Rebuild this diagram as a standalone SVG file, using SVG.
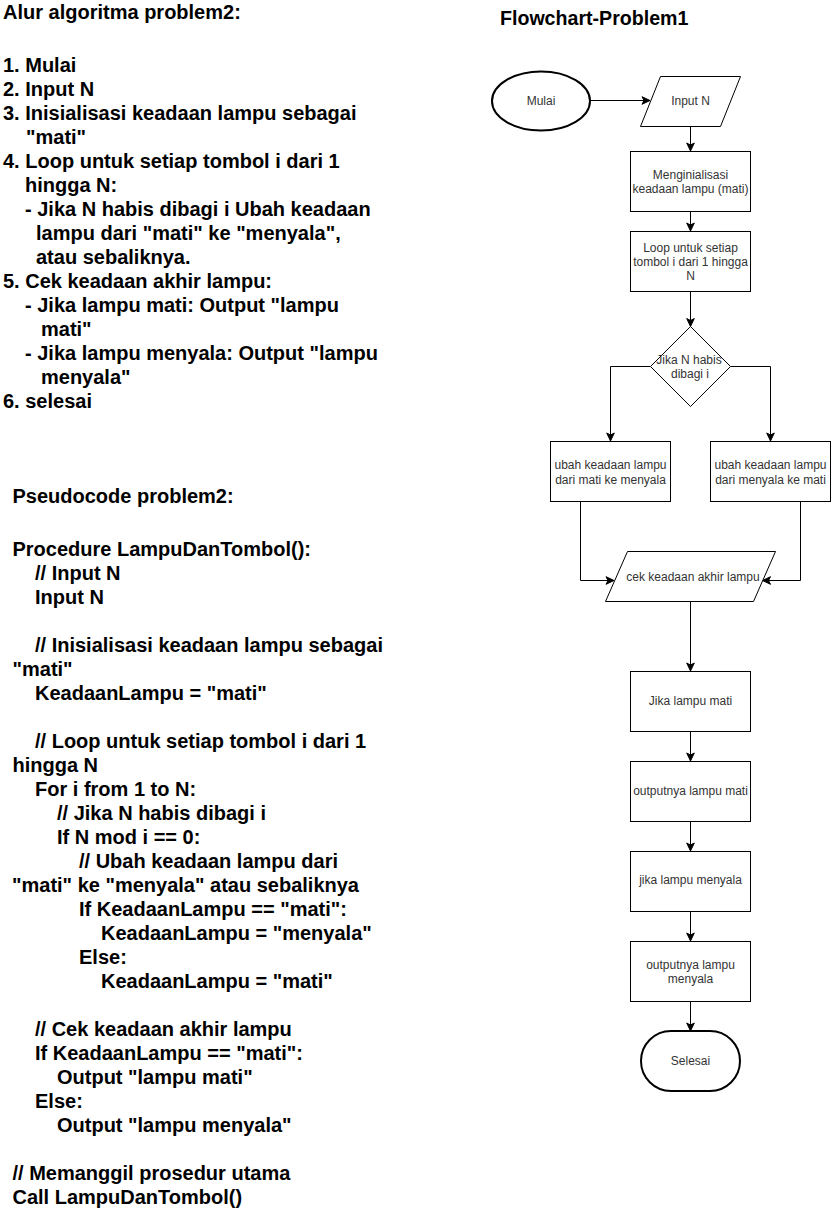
<svg xmlns="http://www.w3.org/2000/svg" width="831" height="1209" viewBox="0 0 831 1209">
<style>
.bg{fill:#ffffff}
.doc{font-family:"Liberation Sans",Arial,sans-serif;font-size:20px;font-weight:bold;fill:#000}
.ttl{font-family:"Liberation Sans",Arial,sans-serif;font-size:19.6px;font-weight:bold;fill:#000}
.shape{fill:#ffffff;stroke:#000;stroke-width:1}
.term{fill:#ffffff;stroke:#000;stroke-width:2}
.lbl{font-family:"Liberation Sans",Arial,sans-serif;font-size:12px;fill:#333;text-anchor:middle}
.edge{fill:none;stroke:#000;stroke-width:1}
</style>
<defs>
<marker id="arr" markerUnits="userSpaceOnUse" markerWidth="10" markerHeight="10" viewBox="0 0 10 10" refX="9" refY="5" orient="auto">
<path d="M1,1.2 L9,5 L1,8.8 L3,5 Z" fill="#000" stroke="#000" stroke-width="1"/>
</marker>
</defs>
<rect class="bg" x="0" y="0" width="831" height="1209"/>

<g id="algoritma-text" class="doc">
<text x="3" y="19">Alur algoritma problem2:</text>
<text x="3" y="72">1. Mulai</text>
<text x="3" y="96">2. Input N</text>
<text x="3" y="120">3. Inisialisasi keadaan lampu sebagai</text>
<text x="26" y="144">"mati"</text>
<text x="3" y="168">4. Loop untuk setiap tombol i dari 1</text>
<text x="25" y="192">hingga N:</text>
<text x="25" y="216">- Jika N habis dibagi i Ubah keadaan</text>
<text x="36" y="240">lampu dari "mati" ke "menyala",</text>
<text x="36" y="264">atau sebaliknya.</text>
<text x="3" y="288">5. Cek keadaan akhir lampu:</text>
<text x="25" y="312">- Jika lampu mati: Output "lampu</text>
<text x="41" y="336">mati"</text>
<text x="25" y="360">- Jika lampu menyala: Output "lampu</text>
<text x="41" y="384">menyala"</text>
<text x="3" y="408">6. selesai</text>
</g>

<g id="pseudocode-text" class="doc">
<text x="12.5" y="503">Pseudocode problem2:</text>
<text x="12.5" y="556">Procedure LampuDanTombol():</text>
<text x="35" y="580">// Input N</text>
<text x="35" y="604">Input N</text>
<text x="35" y="652">// Inisialisasi keadaan lampu sebagai</text>
<text x="12.5" y="676">"mati"</text>
<text x="35" y="700">KeadaanLampu = "mati"</text>
<text x="35" y="748">// Loop untuk setiap tombol i dari 1</text>
<text x="12.5" y="772">hingga N</text>
<text x="35" y="796">For i from 1 to N:</text>
<text x="57" y="820">// Jika N habis dibagi i</text>
<text x="57" y="844">If N mod i == 0:</text>
<text x="79" y="868">// Ubah keadaan lampu dari</text>
<text x="12" y="892">"mati" ke "menyala" atau sebaliknya</text>
<text x="79" y="916">If KeadaanLampu == "mati":</text>
<text x="101" y="940">KeadaanLampu = "menyala"</text>
<text x="79" y="964">Else:</text>
<text x="101" y="988">KeadaanLampu = "mati"</text>
<text x="35" y="1036">// Cek keadaan akhir lampu</text>
<text x="35" y="1060">If KeadaanLampu == "mati":</text>
<text x="57" y="1084">Output "lampu mati"</text>
<text x="35" y="1108">Else:</text>
<text x="57" y="1132">Output "lampu menyala"</text>
<text x="12.5" y="1180">// Memanggil prosedur utama</text>
<text x="12.5" y="1204">Call LampuDanTombol()</text>
</g>

<g id="flowchart-title">
<text class="ttl" x="500" y="25">Flowchart-Problem1</text>
</g>

<g id="connectors" class="edge">
<path d="M590,100.5 L650,100.5" marker-end="url(#arr)"/>
<path d="M690.5,127 L690.5,151" marker-end="url(#arr)"/>
<path d="M690.5,212 L690.5,231" marker-end="url(#arr)"/>
<path d="M690.5,292 L690.5,326.5" marker-end="url(#arr)"/>
<path d="M650.5,366.5 L610.5,366.5 L610.5,441" marker-end="url(#arr)"/>
<path d="M730.5,366.5 L770.5,366.5 L770.5,441" marker-end="url(#arr)"/>
<path d="M580.5,502 L580.5,580.5 L614,580.5" marker-end="url(#arr)"/>
<path d="M800.5,502 L800.5,580.5 L762.5,580.5" marker-end="url(#arr)"/>
<path d="M690.5,602 L690.5,671" marker-end="url(#arr)"/>
<path d="M690.5,732 L690.5,761" marker-end="url(#arr)"/>
<path d="M690.5,822 L690.5,851" marker-end="url(#arr)"/>
<path d="M690.5,912 L690.5,941" marker-end="url(#arr)"/>
<path d="M690.5,1002 L690.5,1031" marker-end="url(#arr)"/>
</g>

<g id="node-mulai">
<ellipse class="term" cx="541" cy="101" rx="49" ry="29.5"/>
<text class="lbl" x="541" y="105">Mulai</text>
</g>
<g id="node-input">
<polygon class="shape" points="660.5,76.5 740.5,76.5 720.5,126.5 640.5,126.5"/>
<text class="lbl" x="690.5" y="105">Input N</text>
</g>
<g id="node-init">
<rect class="shape" x="630.5" y="151.5" width="120" height="60"/>
<text class="lbl" x="690.5" y="179">Menginialisasi</text>
<text class="lbl" x="690.5" y="193">keadaan lampu (mati)</text>
</g>
<g id="node-loop">
<rect class="shape" x="630.5" y="231.5" width="120" height="60"/>
<text class="lbl" x="690.5" y="252">Loop untuk setiap</text>
<text class="lbl" x="690.5" y="266">tombol i dari 1 hingga</text>
<text class="lbl" x="690.5" y="280">N</text>
</g>
<g id="node-decision">
<polygon class="shape" points="690.5,326.5 730.5,366.5 690.5,406.5 650.5,366.5"/>
<text class="lbl" x="689" y="364">Jika N habis</text>
<text class="lbl" x="690" y="378">dibagi i</text>
</g>
<g id="node-ubah-menyala">
<rect class="shape" x="550.5" y="441.5" width="120" height="60"/>
<text class="lbl" x="610.5" y="469">ubah keadaan lampu</text>
<text class="lbl" x="610.5" y="484">dari mati ke menyala</text>
</g>
<g id="node-ubah-mati">
<rect class="shape" x="710.5" y="441.5" width="120" height="60"/>
<text class="lbl" x="770.5" y="469">ubah keadaan lampu</text>
<text class="lbl" x="770.5" y="484">dari menyala ke mati</text>
</g>
<g id="node-cek">
<polygon class="shape" points="627.5,551.5 775.5,551.5 753.5,601.5 605.5,601.5"/>
<text class="lbl" x="693" y="581">cek keadaan akhir lampu</text>
</g>
<g id="node-jika-mati">
<rect class="shape" x="630.5" y="671.5" width="120" height="60"/>
<text class="lbl" x="690.5" y="705">Jika lampu mati</text>
</g>
<g id="node-output-mati">
<rect class="shape" x="630.5" y="761.5" width="120" height="60"/>
<text class="lbl" x="690.5" y="795">outputnya lampu mati</text>
</g>
<g id="node-jika-menyala">
<rect class="shape" x="630.5" y="851.5" width="120" height="60"/>
<text class="lbl" x="690.5" y="884">jika lampu menyala</text>
</g>
<g id="node-output-menyala">
<rect class="shape" x="630.5" y="941.5" width="120" height="60"/>
<text class="lbl" x="690.5" y="969">outputnya lampu</text>
<text class="lbl" x="690.5" y="983">menyala</text>
</g>
<g id="node-selesai">
<rect class="term" x="641" y="1031" width="99" height="60" rx="30" ry="30"/>
<text class="lbl" x="690.5" y="1065">Selesai</text>
</g>
</svg>
